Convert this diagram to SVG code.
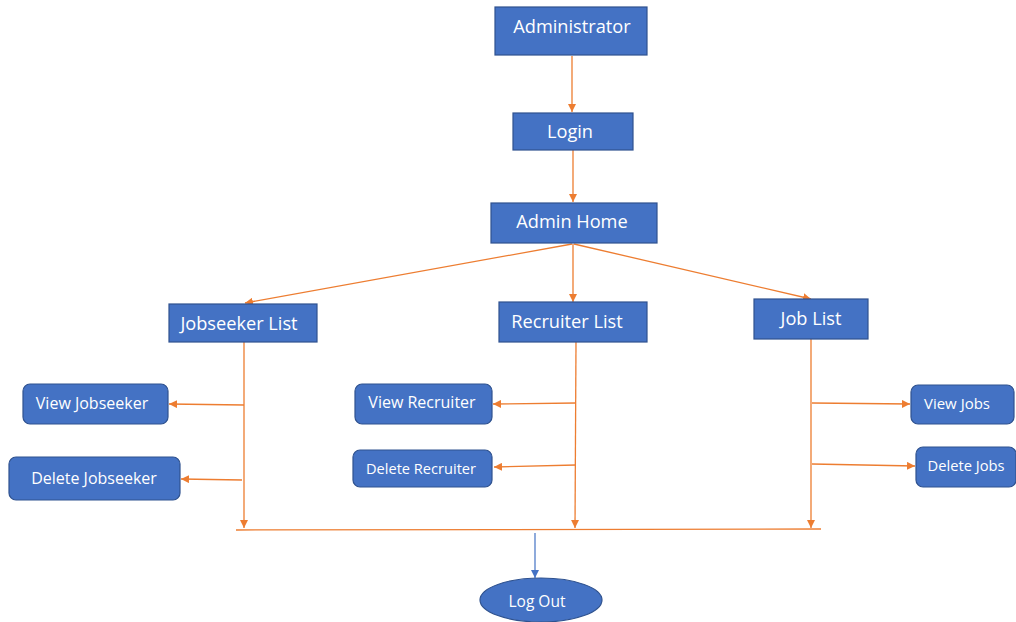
<svg xmlns="http://www.w3.org/2000/svg" width="1016" height="622" viewBox="0 0 1016 622">
<defs>
<style>
.n{fill:#4472C4;stroke:#2F528F;stroke-width:1.2}
.t{font-family:"Open Sans","Noto Sans",sans-serif;fill:#fff;text-anchor:middle;dominant-baseline:central}
.big{font-size:18.2px}
.sm{font-size:16px}
.c{stroke:#ED7D31;stroke-width:1.3;fill:none}
</style>
<marker id="a" viewBox="0 0 10 10" refX="10" refY="5" markerWidth="8" markerHeight="8" markerUnits="userSpaceOnUse" orient="auto"><path d="M0,0L10,5L0,10z" fill="#ED7D31"/></marker>
<marker id="b" viewBox="0 0 10 10" refX="10" refY="5" markerWidth="8" markerHeight="8" markerUnits="userSpaceOnUse" orient="auto"><path d="M0,0L10,5L0,10z" fill="#4472C4"/></marker>
</defs>
<rect width="1016" height="622" fill="#fff"/>
<g id="connectors">
<line class="c" x1="572" y1="56" x2="572" y2="112" marker-end="url(#a)"/>
<line class="c" x1="573" y1="150" x2="573" y2="202" marker-end="url(#a)"/>
<line class="c" x1="572" y1="244" x2="245" y2="303" marker-end="url(#a)"/>
<line class="c" x1="573" y1="244" x2="573" y2="302" marker-end="url(#a)"/>
<line class="c" x1="574" y1="244" x2="811" y2="299" marker-end="url(#a)"/>
<line class="c" x1="244" y1="342" x2="244" y2="528" marker-end="url(#a)"/>
<line class="c" x1="244" y1="405" x2="169" y2="404" marker-end="url(#a)"/>
<line class="c" x1="242" y1="480" x2="181" y2="479" marker-end="url(#a)"/>
<line class="c" x1="576" y1="342" x2="575" y2="528" marker-end="url(#a)"/>
<line class="c" x1="576" y1="403" x2="493" y2="404" marker-end="url(#a)"/>
<line class="c" x1="576" y1="465" x2="494" y2="467" marker-end="url(#a)"/>
<line class="c" x1="811" y1="339" x2="811" y2="528" marker-end="url(#a)"/>
<line class="c" x1="812" y1="403" x2="910" y2="404" marker-end="url(#a)"/>
<line class="c" x1="812" y1="464" x2="915" y2="466" marker-end="url(#a)"/>
<line class="c" x1="236" y1="530" x2="821" y2="529"/>
<line x1="535" y1="533" x2="535" y2="578" stroke="#4472C4" stroke-width="1.2" marker-end="url(#b)"/>
</g>
<g id="administrator"><rect class="n" x="495" y="7" width="152" height="48"/><text class="t big" x="572" y="26">Administrator</text></g>
<g id="login"><rect class="n" x="513" y="113" width="120" height="37"/><text class="t big" x="570" y="131">Login</text></g>
<g id="admin-home"><rect class="n" x="491" y="203" width="166" height="40"/><text class="t big" x="572" y="221">Admin Home</text></g>
<g id="jobseeker-list"><rect class="n" x="169" y="304" width="148" height="38"/><text class="t big" x="239" y="323">Jobseeker List</text></g>
<g id="recruiter-list"><rect class="n" x="499" y="302" width="148" height="40"/><text class="t big" x="567" y="321">Recruiter List</text></g>
<g id="job-list"><rect class="n" x="754" y="299" width="114" height="40"/><text class="t big" x="811" y="318">Job List</text></g>
<g id="view-jobseeker"><rect class="n" x="23" y="384" width="145" height="40" rx="7"/><text class="t sm" x="92" y="403">View Jobseeker</text></g>
<g id="delete-jobseeker"><rect class="n" x="9" y="457" width="171" height="43" rx="7"/><text class="t sm" x="94" y="478">Delete Jobseeker</text></g>
<g id="view-recruiter"><rect class="n" x="355" y="384" width="137" height="40" rx="7"/><text class="t sm" x="422" y="402">View Recruiter</text></g>
<g id="delete-recruiter"><rect class="n" x="353" y="450" width="139" height="37" rx="7"/><text class="t" style="font-size:14.6px" x="421" y="468">Delete Recruiter</text></g>
<g id="view-jobs"><rect class="n" x="911" y="385" width="103" height="39" rx="7"/><text class="t" style="font-size:15px" x="957" y="403">View Jobs</text></g>
<g id="delete-jobs"><rect class="n" x="916" y="447" width="100" height="40" rx="7"/><text class="t" style="font-size:14.7px" x="966" y="465">Delete Jobs</text></g>
<g id="log-out"><ellipse class="n" cx="541" cy="600" rx="61" ry="22"/><text class="t" style="font-size:15.5px" x="537" y="601">Log Out</text></g>
</svg>
